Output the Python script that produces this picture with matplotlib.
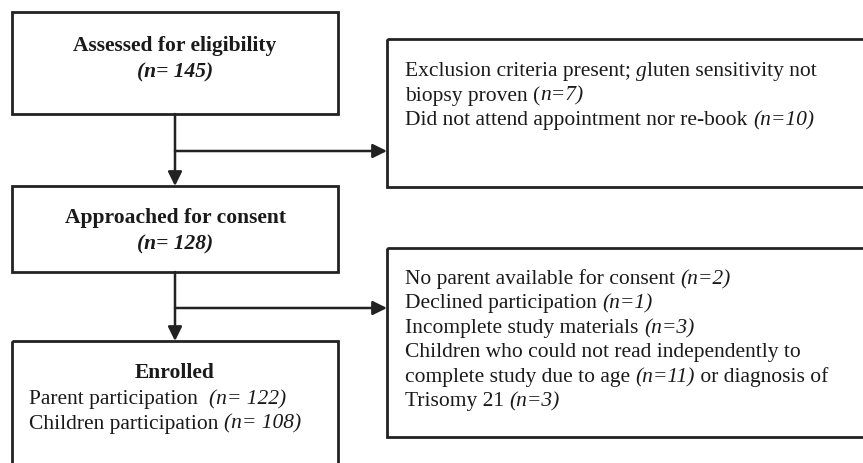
import matplotlib
matplotlib.use('Agg')
import matplotlib.pyplot as plt
from matplotlib.patches import Rectangle

# flowchart content
main_titles = ['Assessed for eligibility', 'Approached for consent', 'Enrolled']
main_counts = ['(n= 145)', '(n= 128)', None]
enrolled_lines = [
    [('Parent participation  ', 'normal'), ('(n= 122)', 'italic')],
    [('Children participation ', 'normal'), ('(n= 108)', 'italic')],
]
excl1_lines = [
    [('Exclusion criteria present; ', 'normal'), ('g', 'italic'), ('luten sensitivity not', 'normal')],
    [('biopsy proven (', 'normal'), ('n=7)', 'italic')],
    [('Did not attend appointment nor re-book ', 'normal'), ('(n=10)', 'italic')],
]
excl2_lines = [
    [('No parent available for consent ', 'normal'), ('(n=2)', 'italic')],
    [('Declined participation ', 'normal'), ('(n=1)', 'italic')],
    [('Incomplete study materials ', 'normal'), ('(n=3)', 'italic')],
    [('Children who could not read independently to', 'normal')],
    [('complete study due to age ', 'normal'), ('(n=11)', 'italic'), (' or diagnosis of', 'normal')],
    [('Trisomy 21 ', 'normal'), ('(n=3)', 'italic')],
]

FONT = 'Liberation Serif'
FS = 15.5
EDGE = '#222222'
TXT = '#1a1a1a'

fig = plt.figure(figsize=(8.63, 4.64), dpi=100)
ax = fig.add_axes([0, 0, 1, 1])
ax.set_xlim(0, 863)
ax.set_ylim(464, 0)
ax.axis('off')
renderer = fig.canvas.get_renderer()


def box(x0, y0, x1, y1):
    ax.add_patch(Rectangle((x0, y0), x1 - x0, y1 - y0, fill=False,
                           edgecolor=EDGE, linewidth=2.0, clip_on=True))


def rich_line(x, y, segs, weight='normal'):
    # draw text segments one after another, measuring each in pixels
    for s, style in segs:
        t = ax.text(x, y, s, fontsize=FS, family=FONT, style=style,
                    weight=weight, va='baseline', ha='left', color=TXT)
        bb = t.get_window_extent(renderer=renderer)
        x += bb.width


def arrow(x0, y0, x1, y1):
    ax.annotate('', xy=(x1, y1), xytext=(x0, y0),
                arrowprops=dict(arrowstyle='-|>,head_length=0.85,head_width=0.42',
                                color=EDGE, lw=1.8, shrinkA=0, shrinkB=0))


# main column boxes
box(12, 13, 338, 115)
box(12, 187, 338, 273)
box(12, 342, 338, 480)
# exclusion boxes (run off right edge)
box(387, 40, 880, 188)
box(387, 249, 880, 438)

# arrows
arrow(175, 115, 175, 187)
arrow(175, 152, 387, 152)
arrow(175, 273, 175, 342)
arrow(175, 309, 387, 309)

# main box texts
title_y = [51, 223, 378]
for i, title in enumerate(main_titles):
    ax.text(175, title_y[i], title, fontsize=FS, family=FONT, weight='bold',
            ha='center', va='baseline', color=TXT)
    if main_counts[i]:
        ax.text(175, title_y[i] + 26, main_counts[i], fontsize=FS, family=FONT,
                weight='bold', style='italic', ha='center', va='baseline',
                color=TXT)

for j, line in enumerate(enrolled_lines):
    rich_line(29, 404 + 24.7 * j, line)

for j, line in enumerate(excl1_lines):
    rich_line(405, 76 + 24.5 * j, line)

for j, line in enumerate(excl2_lines):
    rich_line(405, 284 + 24.5 * j, line)

fig.savefig('out.png', dpi=100)
